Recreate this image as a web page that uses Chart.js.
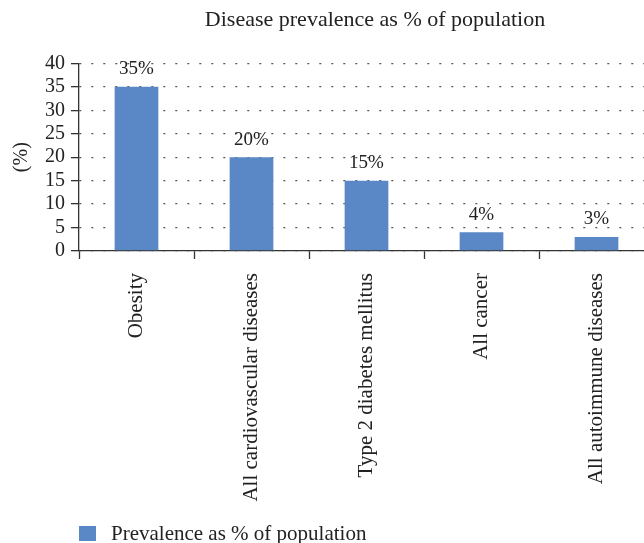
<!DOCTYPE html>
<html>
<head>
<meta charset="utf-8">
<script src="https://cdn.jsdelivr.net/npm/chart.js@4.4.1/dist/chart.umd.min.js"></script>
<style>
  html, body { margin: 0; padding: 0; background: #fff; overflow: hidden; }
  #wrap { position: relative; width: 644px; height: 543px; overflow: hidden; }
  #legend { position: absolute; left: 79px; top: 521px; font-family: 'Liberation Serif', serif; font-size: 21px; color: #222; white-space: nowrap; }
  #legend span.box { display: inline-block; width: 17px; height: 15px; background: #5a87c5; margin-right: 15px; vertical-align: -1px; }
</style>
</head>
<body>
<div id="wrap">
  <canvas id="chart" width="750" height="543"></canvas>
  <div id="legend"><span class="box"></span>Prevalence as % of population</div>
</div>
<script>
  const categories = ['Obesity', 'All cardiovascular diseases', 'Type 2 diabetes mellitus', 'All cancer', 'All autoimmune diseases'];
  const prevalence = [35, 20, 15, 4, 3];
  const seriesName = 'Prevalence as % of population';
  const barColor = '#5a87c5';
  const serif = "'Liberation Serif', 'Times New Roman', serif";

  // writes "35%" etc. above each bar
  const valueLabels = {
    id: 'valueLabels',
    afterDatasetsDraw(chart) {
      const ctx = chart.ctx;
      const meta = chart.getDatasetMeta(0);
      ctx.save();
      ctx.font = '19px ' + serif;
      ctx.fillStyle = '#222';
      ctx.textAlign = 'center';
      ctx.textBaseline = 'bottom';
      meta.data.forEach((bar, i) => {
        ctx.fillText(prevalence[i] + '%', bar.x, bar.y - 8);
      });
      ctx.restore();
    }
  };

  new Chart(document.getElementById('chart'), {
    type: 'bar',
    data: {
      labels: categories,
      datasets: [{
        label: seriesName,
        data: prevalence,
        backgroundColor: barColor,
        barPercentage: 0.38,
        categoryPercentage: 1,
      }],
    },
    options: {
      responsive: false,
      animation: false,
      layout: { padding: 0 },
      plugins: {
        legend: { display: false },
        tooltip: { enabled: false },
        title: {
          display: true,
          text: 'Disease prevalence as % of population',
          color: '#222',
          font: { family: serif, size: 22, weight: 'normal' },
          padding: { top: 7, bottom: 30 },
        },
      },
      scales: {
        x: {
          grid: { drawOnChartArea: false, drawTicks: true, tickLength: 8, tickColor: '#333', tickWidth: 1.3 },
          border: { color: '#333', width: 1.3 },
          ticks: {
            color: '#222',
            font: { family: serif, size: 21 },
            minRotation: 90,
            maxRotation: 90,
            padding: 14,
          },
          afterFit(scale) { scale.height = 292; },
        },
        y: {
          min: 0,
          max: 40,
          ticks: { stepSize: 5, autoSkip: false, color: '#222', font: { family: serif, size: 20 }, padding: 6 },
          grid: { color: '#555', lineWidth: 1.3, tickLength: 8, tickColor: '#333', tickBorderDash: [], tickWidth: 1.3 },
          border: { color: '#333', width: 1.3, dash: [2, 10] },
          title: { display: true, text: '(%)', color: '#222', font: { family: serif, size: 20 }, padding: { top: 10, bottom: 0 } },
          afterFit(scale) { scale.width = 79; },
        },
        // empty right-hand axis, only reserves the space cut off past the window edge
        spare: {
          type: 'linear',
          position: 'right',
          grid: { display: false },
          border: { display: false },
          ticks: { display: false },
          afterFit(scale) { scale.width = 96; },
        },
      },
    },
    plugins: [valueLabels],
  });
</script>
</body>
</html>
